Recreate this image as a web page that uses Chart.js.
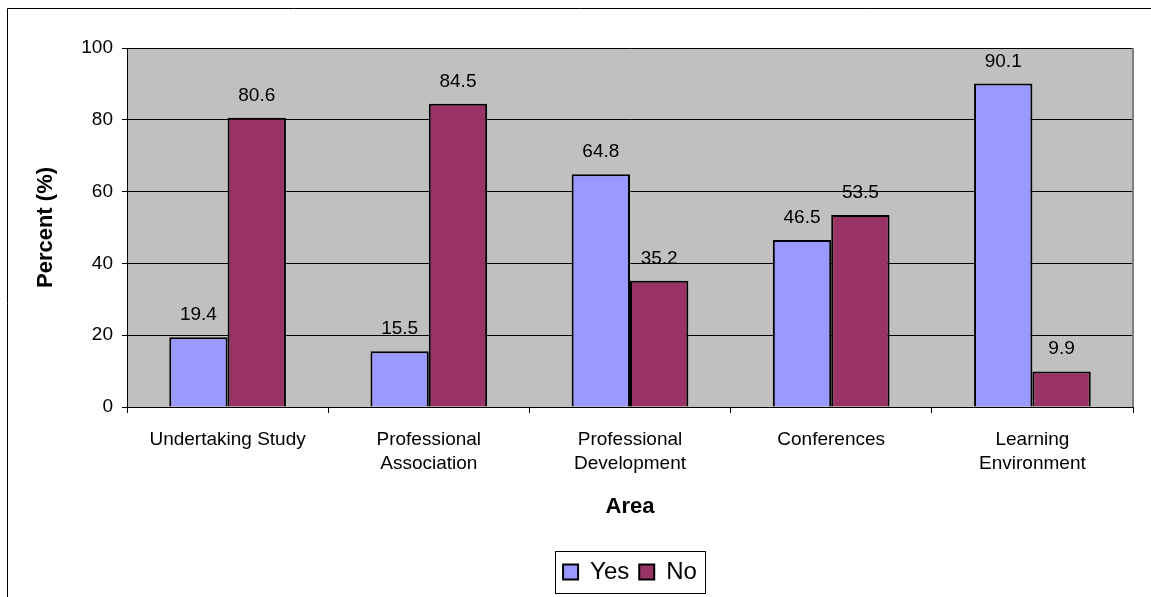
<!DOCTYPE html>
<html>
<head>
<meta charset="utf-8">
<script src="https://cdn.jsdelivr.net/npm/chart.js@4"></script>
<style>
  html, body { margin: 0; padding: 0; background: #fff; }
  #wrap { width: 1151px; height: 597px; }
</style>
</head>
<body>
<div id="wrap"><canvas id="chart_1"></canvas></div>
<script>
const labels = [
    ["Undertaking Study"],
    ["Professional", "Association"],
    ["Professional", "Development"],
    ["Conferences"],
    ["Learning", "Environment"]
]
const yes_values = [19.4, 15.5, 64.8, 46.5, 90.1]
const no_values = [80.6, 84.5, 35.2, 53.5, 9.9]
const y_ticks = [0, 20, 40, 60, 80, 100]

const font_name = "'Liberation Sans', Arial, sans-serif"

// gray plot background + frames
const plot_bg = {
    id: "plot_bg",
    afterLayout(chart) {
        // center the legend under the plot area
        const a = chart.chartArea
        const lg = chart.legend
        const dx = (a.left + a.right) / 2 - (lg.left + lg.right) / 2
        lg.left += dx
        lg.right += dx
        for (const hb of lg.legendHitBoxes || []) hb.left += dx
    },
    beforeDraw(chart) {
        const ctx = chart.ctx
        const a = chart.chartArea
        ctx.save()
        ctx.fillStyle = "#c0c0c0"
        ctx.fillRect(a.left, a.top, a.right - a.left, a.bottom - a.top)
        // outer frame
        ctx.strokeStyle = "#000"
        ctx.lineWidth = 1
        ctx.beginPath()
        ctx.moveTo(7.5, 600)
        ctx.lineTo(7.5, 8.5)
        ctx.lineTo(1160, 8.5)
        ctx.stroke()
        ctx.restore()
    },
    afterDraw(chart) {
        const ctx = chart.ctx
        const a = chart.chartArea
        ctx.save()
        ctx.strokeStyle = "#808080"
        ctx.lineWidth = 2
        ctx.beginPath()
        ctx.moveTo(a.right, a.top)
        ctx.lineTo(a.right, a.bottom)
        ctx.stroke()
        // legend box
        const boxes = chart.legend.legendHitBoxes
        if (boxes && boxes.length) {
            const first = boxes[0]
            const last = boxes[boxes.length - 1]
            const x0 = Math.round(first.left - 8) + 0.5
            const x1 = Math.round(last.left + last.width + 8) + 0.5
            const yc = first.top + first.height / 2
            ctx.strokeStyle = "#000"
            ctx.lineWidth = 1
            ctx.strokeRect(x0, Math.round(yc - 21) + 0.5, x1 - x0, 42)
        }
        ctx.restore()
    }
}

// values above bars
const bar_values = {
    id: "bar_values",
    afterDatasetsDraw(chart) {
        const ctx = chart.ctx
        ctx.save()
        ctx.font = "19px " + font_name
        ctx.fillStyle = "#000"
        ctx.textAlign = "center"
        ctx.textBaseline = "alphabetic"
        chart.data.datasets.forEach((ds, i) => {
            chart.getDatasetMeta(i).data.forEach((bar, j) => {
                ctx.fillText(ds.data[j].toFixed(1), bar.x, bar.y - 17)
            })
        })
        ctx.restore()
    }
}

const data_1 = {
    labels,
    datasets: [
        {
            label: "Yes",
            data: yes_values,
            backgroundColor: "#9999ff",
            borderColor: "#000",
            borderWidth: 2
        },
        {
            label: "No",
            data: no_values,
            backgroundColor: "#993366",
            borderColor: "#000",
            borderWidth: 2
        }
    ]
}

const config_1 = {
    type: "bar",
    data: data_1,
    options: {
        responsive: true,
        maintainAspectRatio: false,
        animation: false,
        datasets: { bar: { categoryPercentage: 0.58, barPercentage: 1.0 } },
        layout: { padding: { left: 0, right: 18, top: 48, bottom: 3 } },
        plugins: {
            tooltip: { enabled: false },
            legend: {
                position: "bottom",
                labels: {
                    color: "#000",
                    font: { family: font_name, size: 24 },
                    boxWidth: 15,
                    boxHeight: 15,
                    padding: 10,
                    generateLabels(chart) {
                        return chart.data.datasets.map((ds, i) => ({
                            text: ds.label,
                            fillStyle: ds.backgroundColor,
                            strokeStyle: "#000",
                            lineWidth: 2,
                            datasetIndex: i
                        }))
                    }
                }
            }
        },
        scales: {
            x: {
                afterFit(axis) { axis.height = 143 },
                grid: {
                    offset: true,
                    drawOnChartArea: false,
                    drawTicks: true,
                    tickLength: 6,
                    color: "#000"
                },
                border: { color: "#000", width: 1 },
                ticks: {
                    color: "#000",
                    font: { family: font_name, size: 19, lineHeight: 1.25 },
                    maxRotation: 0,
                    padding: 15
                },
                title: {
                    display: true,
                    text: "Area",
                    color: "#000",
                    font: { family: font_name, size: 22, weight: "bold" },
                    padding: { top: 0, bottom: 30 }
                }
            },
            y: {
                min: 0,
                max: 100,
                afterBuildTicks(axis) {
                    axis.ticks = y_ticks.map(v => ({ value: v }))
                },
                afterFit(axis) { axis.width = 127 },
                grid: {
                    color: "#000",
                    drawTicks: true,
                    tickLength: 5
                },
                border: { color: "#000", width: 1 },
                ticks: {
                    color: "#000",
                    font: { family: font_name, size: 19 },
                    padding: 9
                },
                title: {
                    display: true,
                    text: "Percent (%)",
                    color: "#000",
                    font: { family: font_name, size: 22, weight: "bold" },
                    padding: { top: 33, bottom: 0 }
                }
            }
        }
    },
    plugins: [plot_bg, bar_values]
}

const chart_1 = new Chart(document.getElementById("chart_1").getContext("2d"), config_1)
</script>
</body>
</html>
